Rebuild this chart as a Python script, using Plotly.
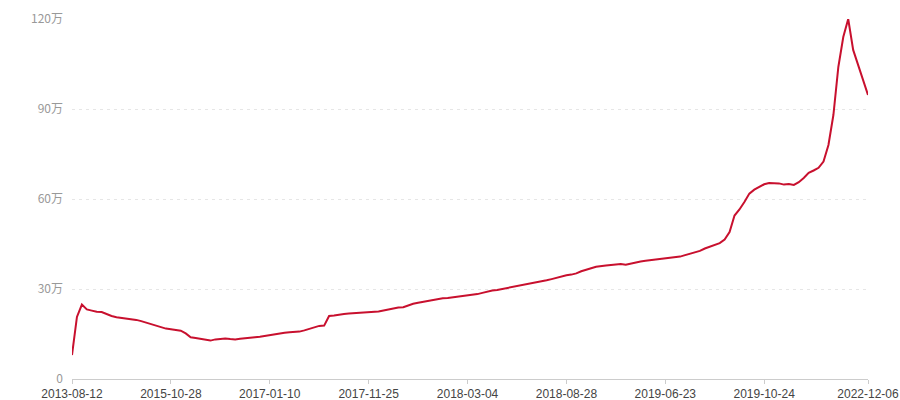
import plotly.graph_objects as go

# values in 万 (10,000), one per category step
values = [
    8.0, 20.7, 24.8, 23.2, 22.8, 22.4, 22.3, 21.6, 21.0, 20.6,
    20.4, 20.2, 19.9, 19.7, 19.3, 18.8, 18.3, 17.6, 17.1, 16.8,
    16.6, 16.4, 16.1, 15.2, 13.9, 13.7, 13.4, 13.0, 12.8, 13.2,
    13.4, 13.5, 13.3, 13.2, 13.4, 13.5, 13.7, 13.9, 14.1, 14.4,
    14.7, 15.0, 15.2, 15.4, 15.6, 15.7, 15.8, 16.2, 16.7, 17.4,
    17.7, 17.8, 21.0, 21.2, 21.5, 21.7, 21.8, 21.9, 22.1, 22.2,
    22.3, 22.4, 22.5, 22.8, 23.1, 23.6, 23.8, 23.9, 24.6, 25.1,
    25.4, 25.7, 26.1, 26.5, 26.7, 26.9, 27.0, 27.2, 27.4, 27.5,
    27.7, 28.0, 28.3, 28.7, 29.2, 29.5, 29.7, 30.0, 30.5, 30.8,
    31.0, 31.2, 31.5, 31.9, 32.3, 32.6, 32.9, 33.3, 33.7, 34.3,
    34.6, 34.8, 35.2, 35.9, 36.5, 36.9, 37.4, 37.7, 37.8, 38.0,
    38.2, 38.3, 38.1, 38.5, 39.0, 39.2, 39.4, 39.6, 39.7, 39.8,
    40.0, 40.2, 40.5, 40.8, 41.3, 41.8, 42.2, 42.7, 43.5, 44.1,
    44.5, 45.3, 46.5, 49.0, 54.5, 56.5, 59.0, 61.8, 63.1, 64.0,
    64.9, 65.3, 65.3, 65.2, 64.8, 65.0, 64.7, 65.6, 67.0, 68.7,
    69.5, 70.4, 72.5, 78.0, 88.0, 104.0, 114.0, 120.0, 109.7, 104.7,
    99.7, 94.7,
]

tick_positions = [0, 20, 40, 60, 80, 100, 120, 140, 161]
tick_labels = ["2013-08-12", "2015-10-28", "2017-01-10", "2017-11-25",
               "2018-03-04", "2018-08-28", "2019-06-23", "2019-10-24",
               "2022-12-06"]

y_ticks = [0, 30, 60, 90, 120]
y_tick_labels = ["0", "30万", "60万", "90万", "120万"]

x = list(range(len(values)))

fig = go.Figure()
fig.add_trace(go.Scatter(
    x=x, y=values, mode="lines",
    line=dict(color="#c8102e", width=2),
    hoverinfo="skip",
))

font_family = "Noto Sans CJK SC, Noto Sans, sans-serif"
x_font_family = "Liberation Sans, Arial, sans-serif"

fig.update_layout(
    width=900, height=400,
    margin=dict(l=72, r=32, t=19, b=21, autoexpand=False),
    paper_bgcolor="white", plot_bgcolor="white",
    showlegend=False,
    font=dict(family=font_family, size=12, color="#999999"),
)
fig.update_xaxes(
    range=[0, len(values) - 1],
    tickmode="array", tickvals=tick_positions, ticktext=tick_labels,
    showgrid=False, zeroline=False,
    showline=True, linecolor="#cccccc", linewidth=1,
    ticks="outside", ticklen=4, tickcolor="#cccccc",
    tickfont=dict(color="#444444", size=12, family=x_font_family),
)
fig.update_yaxes(
    range=[0, 120],
    tickmode="array", tickvals=y_ticks, ticktext=y_tick_labels,
    showgrid=True, gridcolor="#e6e6e6", gridwidth=1, griddash="3px,4px",
    zeroline=False, showline=False, ticks="",
    ticklabelstandoff=8,
    tickfont=dict(color="#999999", size=12, family=font_family),
)

# remove the default page margin so the 900x400 figure fills the window exactly
fig.write_html(
    "out.html",
    config={"displayModeBar": False, "staticPlot": True},
    post_script="document.body.style.margin='0';document.body.style.overflow='hidden';",
)
